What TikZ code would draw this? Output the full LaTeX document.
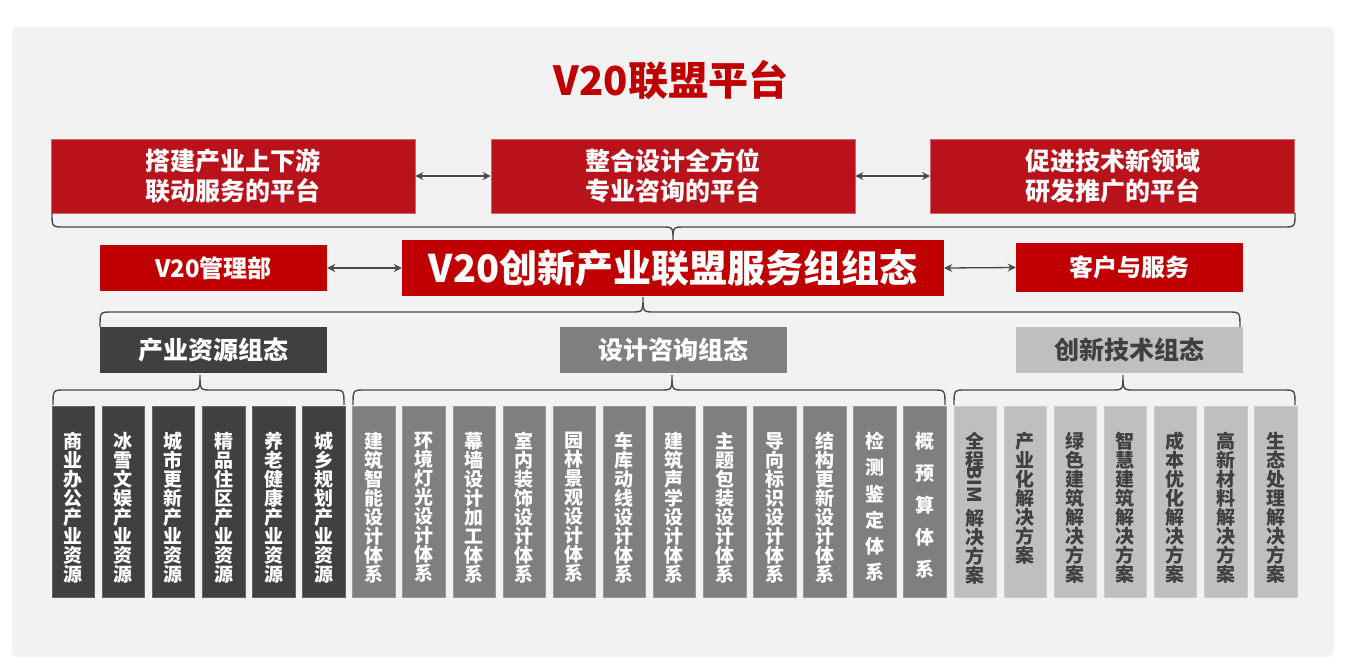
\documentclass[tikz,border=0pt]{standalone}
\usepackage{fontspec}
\setmainfont{Noto Sans CJK SC}
\usetikzlibrary{arrows.meta}
\definecolor{topred}{HTML}{B9121B}
\definecolor{mainred}{HTML}{C00000}
\definecolor{dk}{HTML}{404040}
\definecolor{md}{HTML}{7F7F7F}
\definecolor{lt}{HTML}{BFBFBF}
\definecolor{bgc}{HTML}{F2F2F2}
\definecolor{linec}{HTML}{4A4A4A}
\newcommand\vstack[2]{\vbox{\baselineskip=#1\lineskiplimit=-100pt\lineskip=0pt\relax\expandafter\vstackaux#2\relax}}
\def\vstackaux#1{\ifx\relax#1\else\hbox to 20pt{\hss#1\hss}\expandafter\vstackaux\fi}
\newcommand\bracepath[6]{% x1, x2, xc, ybar, yend, ytip
  \draw[bracec] (#1,#5) .. controls (#1,#4) .. (#1+12,#4) -- (#3-12,#4)
    .. controls (#3,#4) .. (#3,#6) .. controls (#3,#4) .. (#3+12,#4)
    -- (#2-12,#4) .. controls (#2,#4) .. (#2,#5);}
\begin{document}
\begin{tikzpicture}[x=1pt,y=-1pt,
  topbox/.style={fill=topred, draw=topred!65!white, line width=0.6pt, minimum width=364pt, minimum height=74pt, inner sep=0pt, text=white, font=\bfseries\fontsize{25}{30}\selectfont, align=center},
  redbox/.style={fill=mainred, inner sep=0pt, text=white, font=\bfseries\fontsize{24}{28}\selectfont, minimum width=227pt, minimum height=46pt},
  hdrbox/.style={inner sep=0pt, minimum width=227pt, minimum height=46pt, font=\bfseries\fontsize{25}{30}\selectfont},
  colbox/.style={minimum width=42.5pt, minimum height=191pt, inner sep=0pt, line width=0.6pt},
  coltext/.style={inner sep=0pt, anchor=north, font=\bfseries\fontsize{19}{19}\selectfont},
  arr/.style={draw=linec, line width=1.3pt, {Stealth[length=8pt,width=8pt,inset=2.5pt]}-{Stealth[length=8pt,width=8pt,inset=2.5pt]}},
  bracec/.style={draw=linec, line width=1.4pt}]
\useasboundingbox (0,0) rectangle (1348,670);
\fill[white] (0,0) rectangle (1348,670);
\fill[bgc, rounded corners=6pt] (12,27) rectangle (1334,657);

\node[font=\bfseries\fontsize{40}{40}\selectfont, text=mainred, inner sep=0pt] (title) at (671,80) {V20联盟平台};

\node[topbox] (t1) at (233,176) {搭建产业上下游\\联动服务的平台};
\node[topbox] (t2) at (673,176) {整合设计全方位\\专业咨询的平台};
\node[topbox] (t3) at (1112.5,176) {促进技术新领域\\研发推广的平台};
\draw[arr] (t1.east) -- (t2.west);
\draw[arr] (t2.east) -- (t3.west);

\bracepath{52}{1295}{673}{227}{213}{240}

\node[fill=mainred, inner sep=0pt, text=white, font=\bfseries\fontsize{38}{40}\selectfont, minimum width=542pt, minimum height=56pt] (main) at (673,268) {V20创新产业联盟服务组组态};
\node[redbox] (mgmt) at (213.5,268) {V20管理部};
\node[redbox, minimum height=49pt] (client) at (1129.5,267.5) {客户与服务};
\draw[arr] (mgmt.east) -- (main.west);
\draw[arr] (main.east) -- (client.west);

\bracepath{100}{1240}{643}{312}{327}{297}

\node[hdrbox, fill=dk, text=white] (h1) at (213.5,350) {产业资源组态};
\node[hdrbox, fill=md, text=white] (h2) at (673.5,350) {设计咨询组态};
\node[hdrbox, fill=lt, text=dk] (h3) at (1129.5,350) {创新技术组态};

\bracepath{53}{344}{200}{390}{405}{375}
\bracepath{353}{945}{672}{390}{405}{375}
\bracepath{954}{1295}{1123}{390}{405}{375}

\foreach \t [count=\i from 0] in {商业办公产业资源,冰雪文娱产业资源,城市更新产业资源,精品住区产业资源,养老健康产业资源,城乡规划产业资源}{
  \pgfmathsetmacro\xc{52+50.1*\i+21.25}
  \node[colbox, fill=dk, draw=dk!80!white] (c\i) at (\xc,501.5) {};
  \node[coltext, text=white] (ct\i) at (\xc,432) {\vstack{19pt}{\t}};
}
\foreach \t/\p [count=\i from 6] in {建筑智能设计体系/19,环境灯光设计体系/19,幕墙设计加工体系/19,室内装饰设计体系/19,园林景观设计体系/19,车库动线设计体系/19,建筑声学设计体系/19,主题包装设计体系/19,导向标识设计体系/19,结构更新设计体系/19,检测鉴定体系/26.2,概预算体系/32}{
  \pgfmathsetmacro\xc{52+50.1*\i+21.25}
  \node[colbox, fill=md, draw=md!80!white] (c\i) at (\xc,501.5) {};
  \node[coltext, text=white] (ct\i) at (\xc,432) {\vstack{\p pt}{\t}};
}
\foreach \t [count=\i from 19] in {产业化解决方案,绿色建筑解决方案,智慧建筑解决方案,成本优化解决方案,高新材料解决方案,生态处理解决方案}{
  \pgfmathsetmacro\xc{52+50.1*\i+21.25}
  \node[colbox, fill=lt, draw=lt!80!white] (c\i) at (\xc,501.5) {};
  \node[coltext, text=dk] (ct\i) at (\xc,432) {\vstack{19pt}{\t}};
}
\pgfmathsetmacro\xb{52+50.1*18+21.25}
\node[colbox, fill=lt, draw=lt!80!white] (c18) at (\xb,501.5) {};
\node[coltext, text=dk] (ct18a) at (\xb,432) {\vstack{19pt}{全程}};
\node[inner sep=0pt, text=dk, font=\bfseries\fontsize{19}{19}\selectfont, rotate=-90] (ct18b) at (\xb,485) {BIM};
\node[coltext, text=dk] (ct18c) at (\xb,509) {\vstack{19pt}{解决方案}};
\end{tikzpicture}
\end{document}
